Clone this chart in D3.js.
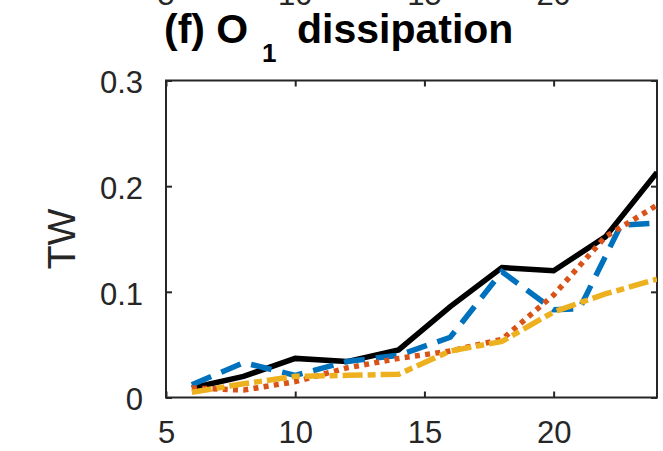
<!DOCTYPE html>
<html>
<head>
<meta charset="utf-8">
<script src="https://cdn.jsdelivr.net/npm/d3@7"></script>
<style>
  html, body { margin: 0; padding: 0; background: #fff; }
  svg { display: block; font-family: "Liberation Sans", Arial, Helvetica, sans-serif; }
</style>
</head>
<body>
<svg id="chart" width="663" height="451"></svg>
<script>
// Period axis (x) and dissipation values (TW) for each run
const xEven = [6, 8, 10, 12, 14, 16, 18, 20, 22, 24];
const totalTW = [0.009, 0.020, 0.037, 0.034, 0.045, 0.086, 0.123, 0.120, 0.152, 0.213];
const blueX = [6, 8, 10, 12, 14, 16, 18, 20, 21, 22.6, 24];
const blueTW = [0.012, 0.033, 0.021, 0.034, 0.040, 0.057, 0.119, 0.083, 0.084, 0.163, 0.165];
const orangeTW = [0.009, 0.007, 0.015, 0.028, 0.037, 0.044, 0.055, 0.097, 0.152, 0.182];
const yellowTW = [0.005, 0.013, 0.020, 0.021, 0.022, 0.044, 0.053, 0.081, 0.098, 0.112];

const xTicks = [5, 10, 15, 20];
const yTicks = [0, 0.1, 0.2, 0.3];
const upperTicks = [5, 10, 15, 20];   // tick labels of the panel above

const svg = d3.select("#chart");
const axisColor = "#262626";

const x = d3.scaleLinear().domain([5, 24]).range([166, 657]);
const y = d3.scaleLinear().domain([0, 0.3]).range([397.5, 80.5]);

// Tail of the panel above: its x tick labels, clipped by the top edge
svg.append("g").selectAll("text").data(upperTicks).join("text")
  .attr("x", d => x(d)).attr("y", 5)
  .attr("text-anchor", "middle")
  .attr("font-size", 31).attr("fill", axisColor)
  .text(d => d);

// Title: (f) O_1 dissipation
const title = svg.append("text").attr("y", 43).attr("font-size", 41)
  .attr("font-weight", "bold").attr("fill", "#000");
title.append("tspan").attr("x", 164).text("(f) O");
title.append("tspan").attr("x", 262).attr("y", 62).attr("font-size", 26).text("1");
title.append("tspan").attr("x", 297).attr("y", 43).text("dissipation");

// Axis box
const gAx = svg.append("g");
gAx.append("rect")
  .attr("x", x(5)).attr("y", y(0.3))
  .attr("width", x(24) - x(5)).attr("height", y(0) - y(0.3))
  .attr("fill", "none").attr("stroke", axisColor).attr("stroke-width", 2);

// Inward ticks on all four sides
const tickLen = 6;
const xAxisBottom = d3.axisBottom(x).tickValues(xTicks).tickSize(-tickLen).tickFormat(d => d).tickPadding(23.5);
const xAxisTop = d3.axisTop(x).tickValues(xTicks).tickSize(-tickLen).tickFormat("");
const yAxisLeft = d3.axisLeft(y).tickValues(yTicks).tickSize(-tickLen).tickFormat(d => d === 0 ? "0" : d3.format(".1f")(d)).tickPadding(23);
const yAxisRight = d3.axisRight(y).tickValues(yTicks).tickSize(-tickLen).tickFormat("");

function styleAxis(g) {
  g.select(".domain").remove();
  g.selectAll(".tick line").attr("stroke", axisColor).attr("stroke-width", 2);
  g.selectAll(".tick text").attr("fill", axisColor).attr("font-size", 31)
    .attr("font-family", "Liberation Sans, Arial, sans-serif");
}
gAx.append("g").attr("transform", `translate(0,${y(0)})`).call(xAxisBottom).call(styleAxis);
gAx.append("g").attr("transform", `translate(0,${y(0.3)})`).call(xAxisTop).call(styleAxis);
gAx.append("g").attr("transform", `translate(${x(5)},0)`).call(yAxisLeft).call(styleAxis)
  .selectAll(".tick text").attr("dy", "0.4em");
gAx.append("g").attr("transform", `translate(${x(24)},0)`).call(yAxisRight).call(styleAxis);

// Y axis label
svg.append("text")
  .attr("transform", `translate(75,${(y(0) + y(0.3)) / 2}) rotate(-90)`)
  .attr("text-anchor", "middle").attr("font-size", 39).attr("fill", axisColor)
  .text("TW");

// Lines
svg.append("clipPath").attr("id", "plotClip").append("rect")
  .attr("x", x(5)).attr("y", y(0.3)).attr("width", x(24) - x(5)).attr("height", y(0) - y(0.3));

const line = d3.line().x(d => x(d[0])).y(d => y(d[1]));
const series = [
  { xs: xEven, ys: totalTW, color: "#000000", width: 5.5, dash: null },
  { xs: blueX, ys: blueTW, color: "#0072BD", width: 5.5, dash: "21,11" },
  { xs: xEven, ys: orangeTW, color: "#D95319", width: 5.5, dash: "5,5.3" },
  { xs: xEven, ys: yellowTW, color: "#EDB120", width: 5.5, dash: "20,5,8,5" }
];
const gLines = svg.append("g").attr("clip-path", "url(#plotClip)");
series.forEach(s => {
  gLines.append("path")
    .datum(s.xs.map((v, i) => [v, s.ys[i]]))
    .attr("d", line)
    .attr("fill", "none")
    .attr("stroke", s.color)
    .attr("stroke-width", s.width)
    .attr("stroke-linejoin", "miter")
    .attr("stroke-linecap", "butt")
    .attr("stroke-dasharray", s.dash);
});
</script>
</body>
</html>
